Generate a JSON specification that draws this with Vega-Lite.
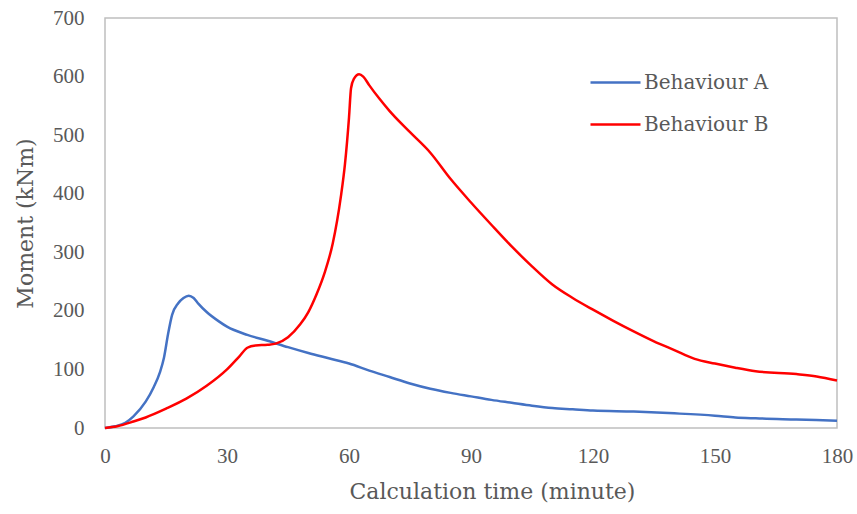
{
  "$schema": "https://vega.github.io/schema/vega-lite/v6.json",
  "width": 732,
  "height": 410,
  "autosize": {"type": "none"},
  "padding": {"left": 105, "top": 18, "right": 20, "bottom": 86},
  "background": "white",
  "config": {
    "view": {"stroke": "#bfbfbf", "strokeWidth": 1.5},
    "font": "Liberation Serif",
    "axis": {"labelFont": "Liberation Serif", "titleFont": "DejaVu Serif", "labelColor": "#595959", "titleColor": "#595959", "labelFontSize": 21, "titleFontSize": 22, "titleFontWeight": "normal", "domain": false, "ticks": false, "grid": false, "labelFlush": false},
    "legend": {"labelFont": "DejaVu Serif", "labelFontSize": 20, "labelColor": "#595959"}
  },
  "data": {"values": [
    {"t": 0, "v": 0, "s": "Behaviour A"},
    {"t": 2.5, "v": 3, "s": "Behaviour A"},
    {"t": 5, "v": 9, "s": "Behaviour A"},
    {"t": 7, "v": 20, "s": "Behaviour A"},
    {"t": 10, "v": 45, "s": "Behaviour A"},
    {"t": 12, "v": 70, "s": "Behaviour A"},
    {"t": 13.5, "v": 95, "s": "Behaviour A"},
    {"t": 14.5, "v": 120, "s": "Behaviour A"},
    {"t": 15.5, "v": 160, "s": "Behaviour A"},
    {"t": 16.5, "v": 193, "s": "Behaviour A"},
    {"t": 18, "v": 213, "s": "Behaviour A"},
    {"t": 19.3, "v": 222, "s": "Behaviour A"},
    {"t": 20.6, "v": 226, "s": "Behaviour A"},
    {"t": 21.8, "v": 222, "s": "Behaviour A"},
    {"t": 23, "v": 212, "s": "Behaviour A"},
    {"t": 25, "v": 198, "s": "Behaviour A"},
    {"t": 28, "v": 182, "s": "Behaviour A"},
    {"t": 30, "v": 173, "s": "Behaviour A"},
    {"t": 35, "v": 159, "s": "Behaviour A"},
    {"t": 40, "v": 149, "s": "Behaviour A"},
    {"t": 45, "v": 138, "s": "Behaviour A"},
    {"t": 50, "v": 128, "s": "Behaviour A"},
    {"t": 55, "v": 119, "s": "Behaviour A"},
    {"t": 60, "v": 110, "s": "Behaviour A"},
    {"t": 65, "v": 98, "s": "Behaviour A"},
    {"t": 70, "v": 87, "s": "Behaviour A"},
    {"t": 75, "v": 76, "s": "Behaviour A"},
    {"t": 80, "v": 67, "s": "Behaviour A"},
    {"t": 85, "v": 60, "s": "Behaviour A"},
    {"t": 90, "v": 54, "s": "Behaviour A"},
    {"t": 95, "v": 48, "s": "Behaviour A"},
    {"t": 100, "v": 43, "s": "Behaviour A"},
    {"t": 105, "v": 38, "s": "Behaviour A"},
    {"t": 110, "v": 34, "s": "Behaviour A"},
    {"t": 115, "v": 32, "s": "Behaviour A"},
    {"t": 120, "v": 30, "s": "Behaviour A"},
    {"t": 130, "v": 28, "s": "Behaviour A"},
    {"t": 140, "v": 25, "s": "Behaviour A"},
    {"t": 150, "v": 21, "s": "Behaviour A"},
    {"t": 155, "v": 18, "s": "Behaviour A"},
    {"t": 160, "v": 16.5, "s": "Behaviour A"},
    {"t": 170, "v": 14.5, "s": "Behaviour A"},
    {"t": 180, "v": 12.5, "s": "Behaviour A"},
    {"t": 0, "v": 0, "s": "Behaviour B"},
    {"t": 3, "v": 3, "s": "Behaviour B"},
    {"t": 7, "v": 11, "s": "Behaviour B"},
    {"t": 10, "v": 18, "s": "Behaviour B"},
    {"t": 15, "v": 33, "s": "Behaviour B"},
    {"t": 20, "v": 50, "s": "Behaviour B"},
    {"t": 25, "v": 72, "s": "Behaviour B"},
    {"t": 30, "v": 100, "s": "Behaviour B"},
    {"t": 33, "v": 122, "s": "Behaviour B"},
    {"t": 35, "v": 137, "s": "Behaviour B"},
    {"t": 37, "v": 141, "s": "Behaviour B"},
    {"t": 40, "v": 142, "s": "Behaviour B"},
    {"t": 42, "v": 144, "s": "Behaviour B"},
    {"t": 45, "v": 155, "s": "Behaviour B"},
    {"t": 48, "v": 177, "s": "Behaviour B"},
    {"t": 50, "v": 198, "s": "Behaviour B"},
    {"t": 52, "v": 228, "s": "Behaviour B"},
    {"t": 54, "v": 265, "s": "Behaviour B"},
    {"t": 56, "v": 315, "s": "Behaviour B"},
    {"t": 58, "v": 395, "s": "Behaviour B"},
    {"t": 59, "v": 450, "s": "Behaviour B"},
    {"t": 60, "v": 530, "s": "Behaviour B"},
    {"t": 60.5, "v": 580, "s": "Behaviour B"},
    {"t": 61.2, "v": 596, "s": "Behaviour B"},
    {"t": 62.5, "v": 604, "s": "Behaviour B"},
    {"t": 63.5, "v": 600, "s": "Behaviour B"},
    {"t": 65, "v": 585, "s": "Behaviour B"},
    {"t": 67.5, "v": 562, "s": "Behaviour B"},
    {"t": 70, "v": 541, "s": "Behaviour B"},
    {"t": 75, "v": 505, "s": "Behaviour B"},
    {"t": 80, "v": 470, "s": "Behaviour B"},
    {"t": 85, "v": 425, "s": "Behaviour B"},
    {"t": 90, "v": 385, "s": "Behaviour B"},
    {"t": 95, "v": 347, "s": "Behaviour B"},
    {"t": 100, "v": 310, "s": "Behaviour B"},
    {"t": 105, "v": 276, "s": "Behaviour B"},
    {"t": 110, "v": 245, "s": "Behaviour B"},
    {"t": 115, "v": 222, "s": "Behaviour B"},
    {"t": 120, "v": 202, "s": "Behaviour B"},
    {"t": 125, "v": 183, "s": "Behaviour B"},
    {"t": 130, "v": 165, "s": "Behaviour B"},
    {"t": 135, "v": 148, "s": "Behaviour B"},
    {"t": 140, "v": 133, "s": "Behaviour B"},
    {"t": 145, "v": 118, "s": "Behaviour B"},
    {"t": 150, "v": 110, "s": "Behaviour B"},
    {"t": 155, "v": 103, "s": "Behaviour B"},
    {"t": 160, "v": 97, "s": "Behaviour B"},
    {"t": 170, "v": 92, "s": "Behaviour B"},
    {"t": 175, "v": 88, "s": "Behaviour B"},
    {"t": 180, "v": 81, "s": "Behaviour B"}
  ]},
  "mark": {"type": "line", "interpolate": "monotone", "strokeWidth": 2.5},
  "encoding": {
    "x": {"field": "t", "type": "quantitative", "title": "Calculation time (minute)",
      "scale": {"domain": [0, 180], "nice": false},
      "axis": {"values": [0, 30, 60, 90, 120, 150, 180], "labelPadding": 17, "titlePadding": 15, "titleX": 387}},
    "y": {"field": "v", "type": "quantitative", "title": "Moment (kNm)",
      "scale": {"domain": [0, 700], "nice": false},
      "axis": {"values": [0, 100, 200, 300, 400, 500, 600, 700], "labelPadding": 21, "titlePadding": 15}},
    "color": {"field": "s", "type": "nominal",
      "scale": {"domain": ["Behaviour A", "Behaviour B"], "range": ["#4472C4", "#FF0000"]},
      "legend": {"title": null, "orient": "none", "legendX": 484, "legendY": 38, "symbolType": "stroke", "symbolSize": 2500, "symbolStrokeWidth": 2.5, "labelOffset": 2, "rowPadding": 5}}
  }
}
